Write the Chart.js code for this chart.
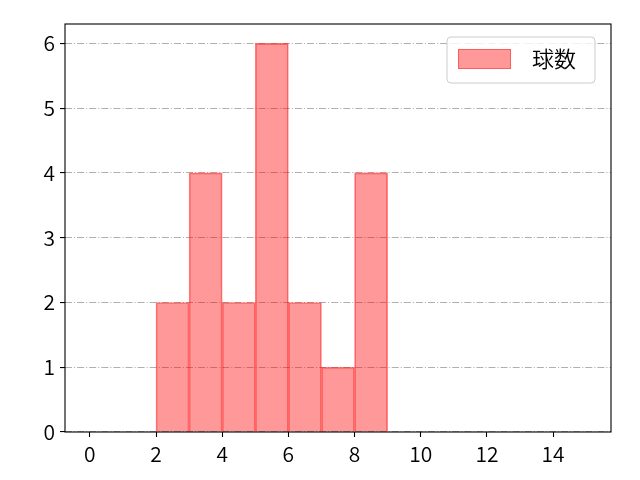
<!DOCTYPE html>
<html>
<head>
<meta charset="utf-8">
<title>球数</title>
<script src="https://cdn.jsdelivr.net/npm/chart.js@4/dist/chart.umd.min.js"></script>
<style>
  html, body { margin: 0; padding: 0; background: #fff; }
  canvas { display: block; }
</style>
</head>
<body>
<canvas id="histChart" width="640" height="480"></canvas>
<script>
// ================================
// DATA
// ================================
const seriesLabel = "球数";
const binStarts = [2, 3, 4, 5, 6, 7, 8];
const binWidth = 1;
const counts = [2, 4, 2, 6, 2, 1, 4];
const xTicks = [0, 2, 4, 6, 8, 10, 12, 14];
const yTicks = [0, 1, 2, 3, 4, 5, 6];

const FONT = "'Noto Sans CJK JP', 'Noto Sans', sans-serif";
const barFill = "rgba(255, 0, 0, 0.4)";
const barEdge = "rgba(255, 0, 0, 0.5)";

const points = binStarts.map((s, i) => ({ x: s + binWidth / 2, y: counts[i] }));

// frame + legend drawn by hand, like matplotlib does
const framePlugin = {
  id: "frame",
  afterDraw(chart) {
    const { ctx, chartArea: a } = chart;
    ctx.save();
    ctx.strokeStyle = "#000";
    ctx.lineWidth = 1.1;
    ctx.strokeRect(a.left, a.top, a.right - a.left, a.bottom - a.top);

    // legend box, upper right
    const w = 148, h = 46;
    const x = a.right - 16 - w, y = a.top + 13;
    ctx.beginPath();
    ctx.roundRect(x, y, w, h, 4);
    ctx.fillStyle = "rgba(255,255,255,0.8)";
    ctx.fill();
    ctx.strokeStyle = "#cccccc";
    ctx.lineWidth = 1;
    ctx.stroke();

    ctx.fillStyle = barFill;
    ctx.fillRect(x + 11, y + 12, 53, 20);
    ctx.strokeStyle = "rgba(255, 0, 0, 0.4)";
    ctx.strokeRect(x + 11.5, y + 12.5, 52, 19);

    ctx.fillStyle = "#000";
    ctx.font = "350 22px " + FONT;
    ctx.textBaseline = "middle";
    ctx.textAlign = "left";
    ctx.fillText(seriesLabel, x + 85, y + 22);
    ctx.restore();
  }
};

new Chart(document.getElementById("histChart"), {
  type: "bar",
  data: {
    datasets: [{
      label: seriesLabel,
      data: points,
      backgroundColor: barFill,
      borderColor: barEdge,
      borderWidth: 1,
      barPercentage: 1,
      categoryPercentage: 1
    }]
  },
  options: {
    responsive: false,
    animation: false,
    devicePixelRatio: 1,
    layout: { padding: { left: 0, right: 29, top: 24, bottom: 0 } },
    plugins: {
      legend: { display: false },
      tooltip: { enabled: false }
    },
    scales: {
      x: {
        type: "linear",
        min: -0.75,
        max: 15.75,
        offset: false,
        afterBuildTicks: s => { s.ticks = xTicks.map(v => ({ value: v })); },
        afterFit: s => { s.height = 48; },
        grid: {
          offset: false,
          drawOnChartArea: false,
          drawTicks: true,
          tickLength: 5,
          tickColor: "#000",
          tickWidth: 1.1
        },
        border: { display: false },
        ticks: {
          color: "#000",
          padding: 4,
          maxRotation: 0,
          autoSkip: false,
          font: { family: FONT, size: 21, weight: 350 }
        }
      },
      y: {
        min: 0,
        max: 6.3,
        z: 1,
        afterBuildTicks: s => { s.ticks = yTicks.map(v => ({ value: v })); },
        afterFit: s => { s.width = 65; },
        grid: {
          color: "#b0b0b0",
          lineWidth: 1.1,
          drawTicks: true,
          tickLength: 5,
          tickColor: "#000",
          tickWidth: 1.1,
          tickBorderDash: []
        },
        border: { display: false, dash: [7, 2, 1.1, 2] },
        ticks: {
          color: "#000",
          padding: 5,
          autoSkip: false,
          font: { family: FONT, size: 21, weight: 350 }
        }
      }
    }
  },
  plugins: [framePlugin]
});
</script>
</body>
</html>
